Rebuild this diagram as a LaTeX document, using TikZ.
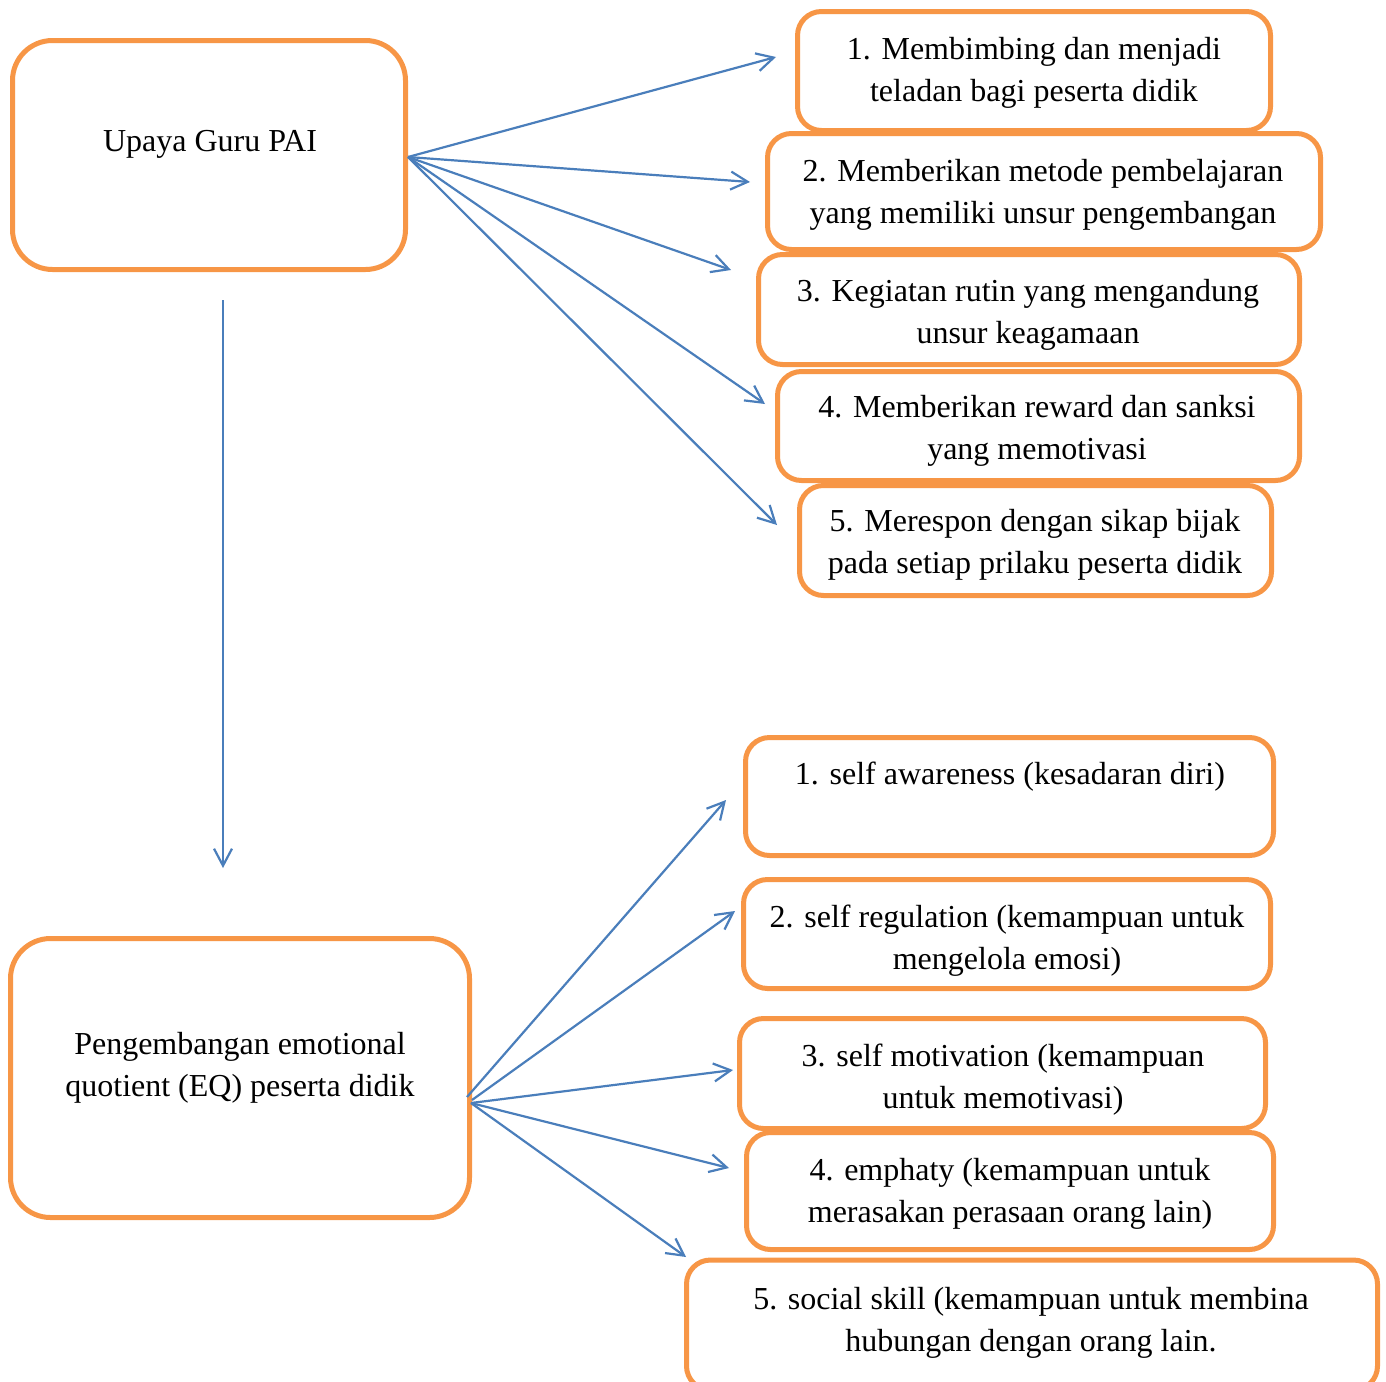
\documentclass[tikz,border=0pt]{standalone}
\usepackage{fontspec}
\setmainfont{Liberation Serif}
\usetikzlibrary{arrows.meta}
\definecolor{boxorange}{HTML}{F79646}
\definecolor{arrblue}{HTML}{4A7EBB}
\begin{document}
\begin{tikzpicture}[x=0.5pt,y=-0.5pt,
  box/.style={draw=boxorange,line width=2.5pt,rounded corners=12pt,inner sep=0pt,fill=white},
  bigbox/.style={box,rounded corners=20pt},
  txt/.style={font=\fontsize{16}{21}\selectfont,align=center,inner sep=0pt,anchor=base},
  arr/.style={draw=arrblue,line width=1.1pt,-{Straight Barb[length=8.5pt,width=9pt]}}]
\useasboundingbox (0,0) rectangle (1386,1381);

% main boxes (text anchors give the baseline of the last line)
\node[bigbox,minimum width=196.5pt,minimum height=114.5pt] (A) at (209,155) {};
\node[txt] (tA) at (210,151) {Upaya Guru PAI};
\node[bigbox,minimum width=229.5pt,minimum height=139.5pt] (B) at (240,1078) {};
\node[txt] (tB) at (240,1096) {Pengembangan emotional\\quotient (EQ) peserta didik};

% top right boxes
\node[box,minimum width=236.5pt,minimum height=59.5pt] (t1) at (1034,71) {};
\node[txt] (tt1) at (1034,101) {1. Membimbing dan menjadi\\teladan bagi peserta didik};
\node[box,minimum width=276.5pt,minimum height=58pt] (t2) at (1044,191.5) {};
\node[txt] (tt2) at (1043,223) {2. Memberikan metode pembelajaran\\yang memiliki unsur pengembangan};
\node[box,minimum width=270.5pt,minimum height=55pt] (t3) at (1029,309.5) {};
\node[txt] (tt3) at (1028,343) {3. Kegiatan rutin yang mengandung\\unsur keagamaan};
\node[box,minimum width=261pt,minimum height=54.5pt] (t4) at (1038.5,426) {};
\node[txt] (tt4) at (1037,459) {4. Memberikan reward dan sanksi\\yang memotivasi};
\node[box,minimum width=236pt,minimum height=55pt] (t5) at (1035.5,540.5) {};
\node[txt] (tt5) at (1035,573) {5. Merespon dengan sikap bijak\\pada setiap prilaku peserta didik};

% bottom right boxes
\node[box,minimum width=264pt,minimum height=59pt] (b1) at (1009.5,796.5) {};
\node[txt] (tb1) at (1010,784) {1. self awareness (kesadaran diri)};
\node[box,minimum width=263.5pt,minimum height=54.5pt] (b2) at (1007,934) {};
\node[txt] (tb2) at (1007,969) {2. self regulation (kemampuan untuk\\mengelola emosi)};
\node[box,minimum width=263pt,minimum height=55pt] (b3) at (1002.5,1073.5) {};
\node[txt] (tb3) at (1003,1108) {3. self motivation (kemampuan\\untuk memotivasi)};
\node[box,minimum width=263.5pt,minimum height=58.5pt] (b4) at (1010,1191) {};
\node[txt] (tb4) at (1010,1222) {4. emphaty (kemampuan untuk\\merasakan perasaan orang lain)};
\node[box,minimum width=345.5pt,minimum height=65pt] (b5) at (1032,1325) {};
\node[txt] (tb5) at (1031,1351) {5. social skill (kemampuan untuk membina\\hubungan dengan orang lain.};

% arrow tips and origins
\coordinate (oA) at (408,157);
\coordinate (e1) at (776,57);
\coordinate (e2) at (750,182);
\coordinate (e3) at (731,270);
\coordinate (e4) at (765,404);
\coordinate (e5) at (777,525);
\coordinate (v1) at (223,300);
\coordinate (v2) at (223,868);
\coordinate (oB1) at (467,1097);
\coordinate (oB2) at (472,1100);
\coordinate (oB) at (471,1103);
\coordinate (f1) at (726,800);
\coordinate (f2) at (735,911);
\coordinate (f3) at (733,1070);
\coordinate (f4) at (729,1168);
\coordinate (f5) at (686,1257);

\draw[arr] (oA) -- (e1);
\draw[arr] (oA) -- (e2);
\draw[arr] (oA) -- (e3);
\draw[arr] (oA) -- (e4);
\draw[arr] (oA) -- (e5);
\draw[arr] (v1) -- (v2);
\draw[arr] (oB1) -- (f1);
\draw[arr] (oB2) -- (f2);
\draw[arr] (oB) -- (f3);
\draw[arr] (oB) -- (f4);
\draw[arr] (oB) -- (f5);
\end{tikzpicture}
\end{document}
